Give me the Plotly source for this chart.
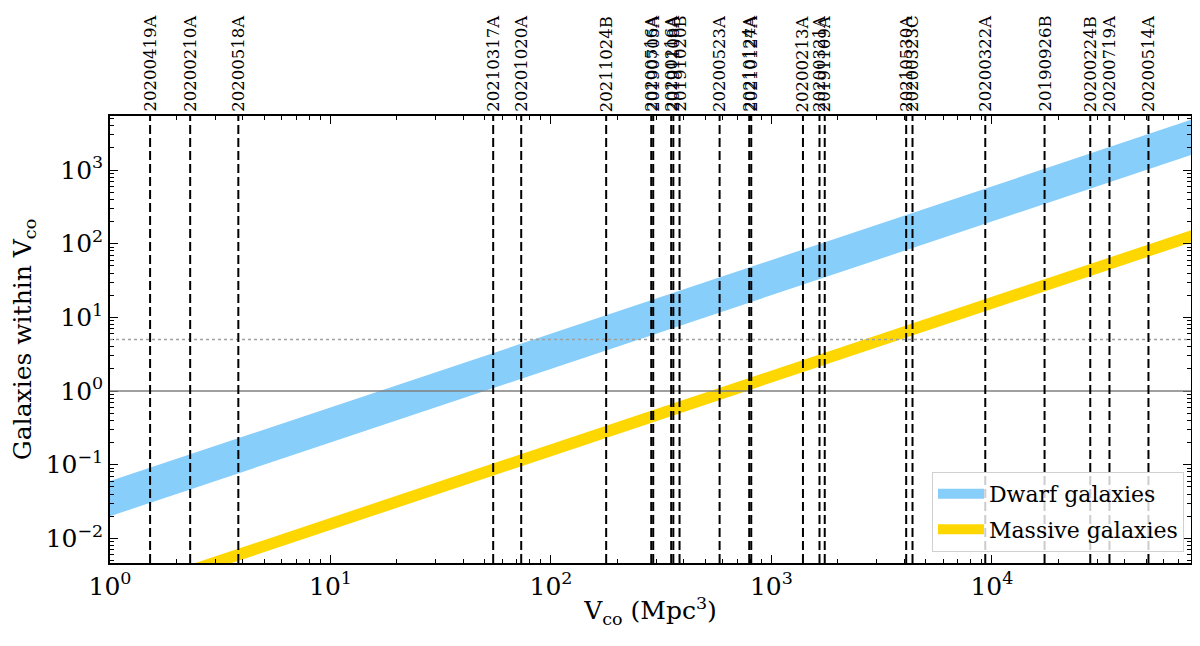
import math
import plotly.graph_objects as go

# FRB names and comoving volumes (Mpc^3)
frb_names = ['20200419A', '20200210A', '20200518A', '20210317A', '20201020A',
             '20211024B', '20200516A', '20190705A', '20200216A', '20191108A',
             '20191020B', '20200523A', '20210124A', '20210127A', '20200213A',
             '20200321A', '20191109A', '20210530A', '20200323C', '20200322A',
             '20190926B', '20200224B', '20200719A', '20200514A']
frb_vco = [1.52, 2.31, 3.82, 54.7, 73.3,
           178, 285, 291, 351, 359,
           383, 582, 793, 810, 1390,
           1652, 1745, 4085, 4364, 9330,
           17330, 27930, 34140, 51290]

# band end points (V_co, galaxies)
band_v = [1.0, 8.0e4]
dwarf_low = [0.02, 1600]
dwarf_high = [0.06, 4800]
massive_low = [0.0013, 104]
massive_high = [0.0019, 152]

serif = 'DejaVu Serif'
blue = '#87CEFA'
gold = '#FFD700'

fig = go.Figure()

fig.add_trace(go.Scatter(
    x=band_v + band_v[::-1], y=dwarf_low + dwarf_high[::-1],
    fill='toself', fillcolor=blue, mode='none', showlegend=False))
fig.add_trace(go.Scatter(
    x=band_v + band_v[::-1], y=massive_low + massive_high[::-1],
    fill='toself', fillcolor=gold, mode='none', showlegend=False))

# legend patches
fig.add_trace(go.Scatter(x=[None], y=[None], mode='lines', name='Dwarf galaxies',
                         line=dict(color=blue, width=17), legendgroup='d'))
fig.add_trace(go.Scatter(x=[None], y=[None], mode='lines', name='Massive galaxies',
                         line=dict(color=gold, width=17), legendgroup='m'))

# reference levels
fig.add_hline(y=1, line=dict(color='#7f7f7f', width=1.5))
fig.add_hline(y=5, line=dict(color='#a0a0a0', width=1.5, dash='dot'))

for name, v in zip(frb_names, frb_vco):
    fig.add_vline(x=v, line=dict(color='black', width=2, dash='9px,4px'))
    fig.add_annotation(x=math.log10(v), xref='x', y=1, yref='paper', yanchor='bottom',
                       yshift=2, text=name, textangle=-90, showarrow=False,
                       font=dict(family=serif, size=16.5, color='black'))

x_ticks = [1, 10, 100, 1000, 10000]
x_text = ['10<sup>0</sup>', '10<sup>1</sup>', '10<sup>2</sup>', '10<sup>3</sup>', '10<sup>4</sup>']
y_ticks = [0.01, 0.1, 1, 10, 100, 1000]
y_text = ['10<sup>\u22122</sup>', '10<sup>\u22121</sup>', '10<sup>0</sup>',
          '10<sup>1</sup>', '10<sup>2</sup>', '10<sup>3</sup>']

# minor ticks at 2..9 of every decade
x_minor = [m * 10 ** d for d in range(0, 5) for m in range(2, 10)]
y_minor = [m * 10 ** d for d in range(-3, 4) for m in range(2, 10)]

axis_common = dict(type='log', showgrid=False, zeroline=False, showline=True,
                   linecolor='black', linewidth=1.5, mirror='allticks',
                   ticks='inside', ticklen=8, tickwidth=1.2, tickcolor='black',
                   automargin=False,
                   tickfont=dict(family=serif, size=25, color='black'))

fig.update_xaxes(range=[0, 4.903], tickvals=x_ticks, ticktext=x_text,
                 minor=dict(tickvals=x_minor, ticks='inside', ticklen=4,
                            tickwidth=1, tickcolor='black', showgrid=False),
                 title=dict(text='V<sub>co</sub> (Mpc<sup>3</sup>)',
                            font=dict(family=serif, size=25, color='black'), standoff=2),
                 **axis_common)
fig.update_yaxes(range=[-2.334, 3.733], tickvals=y_ticks, ticktext=y_text,
                 minor=dict(tickvals=y_minor, ticks='inside', ticklen=4,
                            tickwidth=1, tickcolor='black', showgrid=False),
                 title=dict(text='Galaxies within V<sub>co</sub>',
                            font=dict(family=serif, size=25, color='black'), standoff=12),
                 **axis_common)

fig.update_layout(
    width=1200, height=646,
    margin=dict(l=102, r=17, t=108, b=91),
    plot_bgcolor='white', paper_bgcolor='white',
    font=dict(family=serif, color='black'),
    legend=dict(x=0.9935, y=0.025, xanchor='right', yanchor='bottom',
                bgcolor='rgba(255,255,255,0.8)', bordercolor='#d0d0d0', borderwidth=1,
                tracegroupgap=4, itemwidth=46,
                font=dict(family=serif, size=22, color='black')),
)

fig.write_html("out.html")
